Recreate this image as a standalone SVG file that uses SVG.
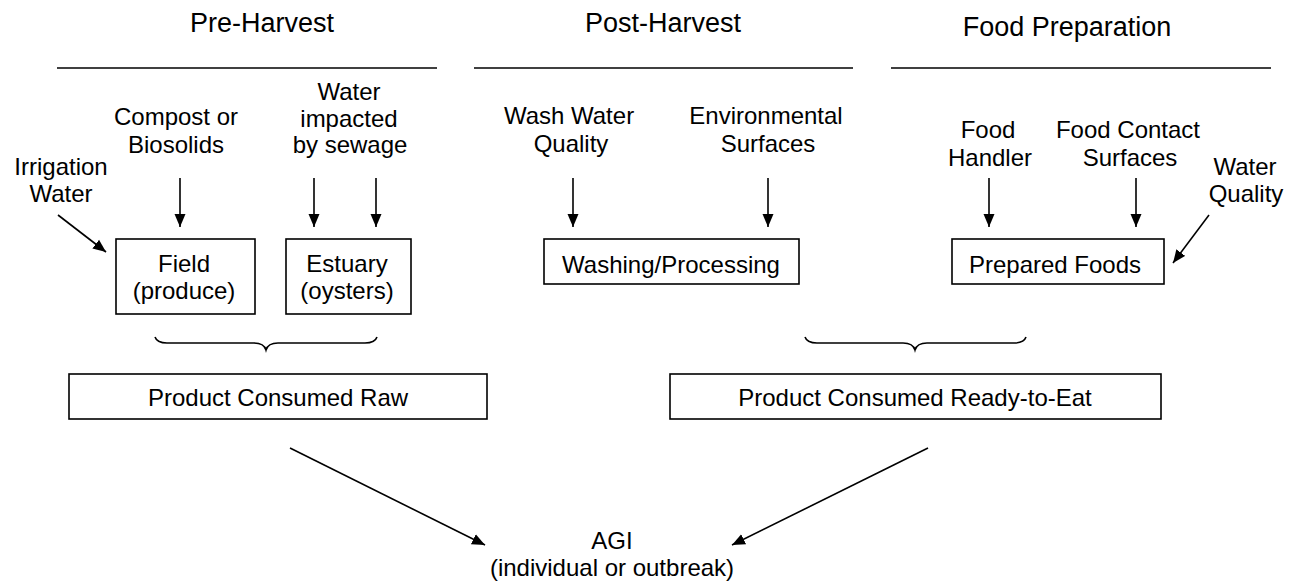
<svg xmlns="http://www.w3.org/2000/svg" width="1298" height="583" viewBox="0 0 1298 583">
<style>
text{font-family:"Liberation Sans",Arial,sans-serif;fill:#000;text-anchor:middle}
.t{font-size:27px}
.l{font-size:24px}
.box{fill:#fff;stroke:#000;stroke-width:1.6}
.c{stroke:#000;stroke-width:1.6;fill:none}
.a{marker-end:url(#ah)}
</style>
<defs>
<marker id="ah" markerUnits="userSpaceOnUse" markerWidth="14" markerHeight="12" refX="13" refY="6" orient="auto">
<path d="M0,0.5 L13,6 L0,11.5 z" fill="#000"/>
</marker>
</defs>
<g id="titles">
<text class="t" x="262" y="32">Pre-Harvest</text>
<text class="t" x="663" y="32">Post-Harvest</text>
<text class="t" x="1067" y="36">Food Preparation</text>
</g>
<g id="rules">
<line class="c" x1="57" y1="68" x2="437" y2="68"/>
<line class="c" x1="474" y1="68" x2="853" y2="68"/>
<line class="c" x1="891" y1="68" x2="1271" y2="68"/>
</g>
<g id="src-compost"><text class="l" x="176" y="125">Compost or</text><text class="l" x="176" y="153">Biosolids</text></g>
<g id="src-sewage"><text class="l" x="349" y="100">Water</text><text class="l" x="349" y="127">impacted</text><text class="l" x="350" y="153">by sewage</text></g>
<g id="src-irrigation"><text class="l" x="61" y="175">Irrigation</text><text class="l" x="61" y="202">Water</text></g>
<g id="src-washwater"><text class="l" x="569" y="124">Wash Water</text><text class="l" x="571" y="152">Quality</text></g>
<g id="src-envsurf"><text class="l" x="766" y="124">Environmental</text><text class="l" x="768" y="152">Surfaces</text></g>
<g id="src-handler"><text class="l" x="988" y="138">Food</text><text class="l" x="990" y="166">Handler</text></g>
<g id="src-contact"><text class="l" x="1128" y="138">Food Contact</text><text class="l" x="1130" y="166">Surfaces</text></g>
<g id="src-waterq"><text class="l" x="1245" y="175">Water</text><text class="l" x="1246" y="202">Quality</text></g>
<g id="field"><rect class="box" x="116" y="239" width="139" height="75"/><text class="l" x="184" y="272">Field</text><text class="l" x="184" y="299">(produce)</text></g>
<g id="estuary"><rect class="box" x="286" y="239" width="125" height="75"/><text class="l" x="347" y="272">Estuary</text><text class="l" x="347" y="299">(oysters)</text></g>
<g id="washing"><rect class="box" x="544" y="239" width="255" height="45"/><text class="l" x="671" y="273">Washing/Processing</text></g>
<g id="prepared"><rect class="box" x="952" y="239" width="212" height="45"/><text class="l" x="1055" y="273">Prepared Foods</text></g>
<g id="raw"><rect class="box" x="69" y="374" width="418" height="45"/><text class="l" x="278" y="406">Product Consumed Raw</text></g>
<g id="rte"><rect class="box" x="670" y="374" width="491" height="45"/><text class="l" x="915" y="406">Product Consumed Ready-to-Eat</text></g>
<g id="agi"><text class="l" x="612" y="549">AGI</text><text class="l" x="612" y="576">(individual or outbreak)</text></g>
<g id="connectors">
<line class="c a" x1="180" y1="178" x2="180" y2="227"/>
<line class="c a" x1="314" y1="178" x2="314" y2="227"/>
<line class="c a" x1="376" y1="178" x2="376" y2="227"/>
<line class="c a" x1="58" y1="215" x2="106" y2="252"/>
<line class="c a" x1="573" y1="178" x2="573" y2="227"/>
<line class="c a" x1="768" y1="178" x2="768" y2="227"/>
<line class="c a" x1="989" y1="178" x2="989" y2="227"/>
<line class="c a" x1="1136" y1="178" x2="1136" y2="227"/>
<line class="c a" x1="1209" y1="215" x2="1173" y2="263"/>
<path class="c" d="M155,337 Q157,343 167,343 L254,343 Q264,343 266,350 Q268,343 278,343 L365,343 Q375,343 377,337"/>
<path class="c" d="M805,337 Q807,343 817,343 L903,343 Q913,343 915,350 Q917,343 927,343 L1014,343 Q1024,343 1026,337"/>
<line class="c a" x1="290" y1="448" x2="485" y2="545"/>
<line class="c a" x1="928" y1="448" x2="732" y2="545"/>
</g>
</svg>
